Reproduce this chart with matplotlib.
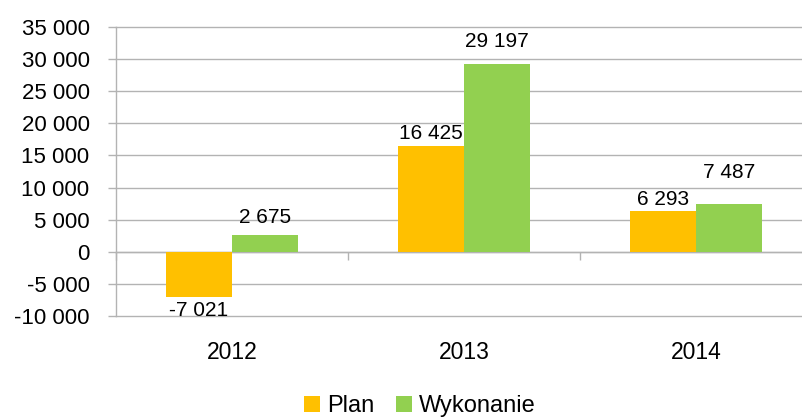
import matplotlib
matplotlib.use("Agg")
import matplotlib.pyplot as plt
import matplotlib.transforms as mtransforms
import numpy as np

categories = ["2012", "2013", "2014"]
plan = [-7021, 16425, 6293]
wykonanie = [2675, 29197, 7487]
series_names = ["Plan", "Wykonanie"]
yticks = list(range(-10000, 35001, 5000))

# label gaps from bar end (pixels) - styling
plan_label_gap = [6, 7, 6]
wyk_label_gap = [12, 17, 26]

def fmt(v):
    s = f"{abs(v):,}".replace(",", " ")
    return ("-" if v < 0 else "") + s

plt.rcParams['font.family'] = ['Liberation Sans', 'DejaVu Sans']

fig = plt.figure(figsize=(8.02, 4.17), dpi=100)
ax = fig.add_axes([116/802, 101/417, 696/802, 289/417])

x = np.arange(len(categories))
w = 66/232
colors = ["#FFC000", "#92D050"]
grid_c = "#B3B3B3"

b1 = ax.bar(x - w/2, plan, w, color=colors[0], label=series_names[0], zorder=3)
b2 = ax.bar(x + w/2, wykonanie, w, color=colors[1], label=series_names[1], zorder=3)

for bars, vals, gaps in ((b1, plan, plan_label_gap), (b2, wykonanie, wyk_label_gap)):
    for rect, v, g in zip(bars, vals, gaps):
        cx = rect.get_x() + rect.get_width()/2
        gp = g * 0.72  # px -> points at 100 dpi
        if v >= 0:
            ax.annotate(fmt(v), (cx, v), xytext=(0, gp), textcoords="offset points",
                        ha="center", va="baseline", fontsize=15, color="#000000", zorder=5)
        else:
            ax.annotate(fmt(v), (cx, v), xytext=(0, -gp + 1), textcoords="offset points",
                        ha="center", va="top", fontsize=15, color="#000000", zorder=5)

ax.set_xlim(-0.5, len(categories) - 0.5)
ax.set_ylim(yticks[0], yticks[-1])
ax.set_yticks(yticks)
ax.set_yticklabels([fmt(v) for v in yticks], fontsize=16)
ax.yaxis.grid(True, color=grid_c, linewidth=1.0, zorder=0)
for gl in ax.get_ygridlines():
    gl.set_clip_on(False)
ax.tick_params(axis="y", length=6, width=1.0, color=grid_c, pad=13)

for s in ("top", "right"):
    ax.spines[s].set_visible(False)
ax.spines["left"].set_color(grid_c)
ax.spines["left"].set_linewidth(1.0)
ax.spines["bottom"].set_position(("data", 0))
ax.spines["bottom"].set_color(grid_c)
ax.spines["bottom"].set_linewidth(1.0)
ax.set_xticks(np.arange(len(categories) + 1) - 0.5)
ax.set_xticklabels([])
ax.tick_params(axis="x", length=6, width=1.0, color=grid_c, direction="out")

trans = mtransforms.blended_transform_factory(ax.transData, ax.transAxes)
for xi, c in zip(x, categories):
    ax.text(xi, -0.125, c, transform=trans, ha="center", va="center", fontsize=16.5)

leg = fig.legend(handles=[b1, b2], labels=series_names, loc="center",
                 bbox_to_anchor=(420/802, 1 - 406/417), ncol=2, frameon=False,
                 fontsize=17, handlelength=0.65, handleheight=0.65, handletextpad=0.3,
                 columnspacing=0.95, borderpad=0)

fig.savefig("out.png", dpi=100)
